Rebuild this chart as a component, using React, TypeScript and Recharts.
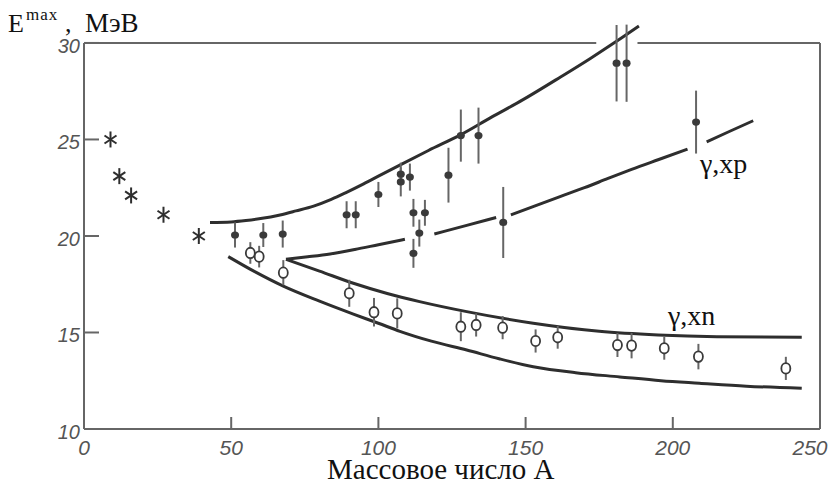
import {
  ComposedChart,
  Line,
  Scatter,
  ErrorBar,
  XAxis,
  YAxis,
  ReferenceLine,
} from "recharts";

/* ---------- данные ---------- */

// звёздочки (лёгкие ядра)
const starA = [9, 12, 16, 27, 39];
const starE = [25.0, 23.1, 22.1, 21.1, 20.0];

// тёмные точки с погрешностями
const dotA = [51.3, 60.9, 67.5, 89.2, 92.3, 100, 107.6, 107.6, 110.7, 111.9, 115.8, 113.9, 111.9, 123.8, 128, 134, 142.4, 180.9, 184.3, 207.9];
const dotE = [20.05, 20.05, 20.1, 21.1, 21.1, 22.15, 23.2, 22.8, 23.05, 21.2, 21.2, 20.15, 19.1, 23.15, 25.2, 25.2, 20.7, 28.95, 28.95, 25.9];
const dotErr = [0.65, 0.62, 0.7, 0.7, 0.7, 0.65, 0.6, 0.75, 0.7, 0.72, 0.67, 0.7, 0.75, 1.42, 1.35, 1.45, 1.84, 1.98, 2.0, 1.63];

// светлые кружки с погрешностями
const ringA = [56.5, 59.5, 67.7, 90.1, 98.5, 106.4, 128, 133.2, 142.2, 153.4, 160.9, 181.2, 186, 197.1, 208.7, 238.4];
const ringE = [19.12, 18.93, 18.1, 17.03, 16.05, 15.99, 15.3, 15.39, 15.25, 14.56, 14.75, 14.35, 14.32, 14.18, 13.75, 13.14];
const ringErr = [0.56, 0.56, 0.65, 0.7, 0.74, 0.78, 0.75, 0.6, 0.6, 0.6, 0.59, 0.62, 0.66, 0.59, 0.66, 0.6];

// верхняя огибающая
const upA = [42.8, 50, 55, 60, 66.6, 72, 78, 84, 89, 95, 100, 107.6, 117, 128, 138, 149, 162, 172, 181, 188.5];
const upE = [20.7, 20.73, 20.8, 20.9, 21.09, 21.3, 21.55, 21.9, 22.25, 22.7, 23.1, 23.7, 24.43, 25.25, 26.12, 27.05, 28.25, 29.2, 30.1, 30.88];

// кривая γ,xp (с разрывами)
const xpA = [68.6, 76, 83.6, 92, 100, 109, 114, 119, 130, 140, 142.5, 145, 153, 161.7, 170, 178, 186, 195, 205, 208, 211.5, 219, 227.3];
const xpE = [18.79, 18.92, 19.07, 19.3, 19.55, 19.83, null, 20.1, 20.55, 20.96, null, 21.09, 21.55, 22.04, 22.5, 22.98, 23.45, 23.95, 24.5, null, 24.88, 25.4, 25.97];

// кривая γ,xn
const xnA = [68.6, 80, 91.5, 103, 114, 130, 152.6, 175, 195, 215, 243.8];
const xnE = [18.79, 18.18, 17.55, 17.02, 16.6, 16.08, 15.48, 15.06, 14.87, 14.78, 14.75];

// нижняя огибающая
const lowA = [49, 58, 67.7, 80, 91.5, 100, 107.3, 118, 130, 141, 152.6, 167, 182, 196, 209, 225, 243.8];
const lowE = [18.93, 18.15, 17.4, 16.62, 15.95, 15.48, 15.06, 14.55, 14.09, 13.64, 13.23, 12.92, 12.7, 12.5, 12.37, 12.22, 12.11];

const xTicks = [0, 50, 100, 150, 200, 250];
const yTicks = [10, 15, 20, 25, 30];

const zip = (a: number[], e: (number | null)[], err?: number[]) =>
  a.map((v, i) => ({ a: v, e: e[i], err: err ? err[i] : 0 }));

const stars = zip(starA, starE);
const dots = zip(dotA, dotE, dotErr);
const rings = zip(ringA, ringE, ringErr);
const upCurve = zip(upA, upE);
const xpCurve = zip(xpA, xpE);
const xnCurve = zip(xnA, xnE);
const lowCurve = zip(lowA, lowE);

const INK = "#2e2e2e";
const FRAME = "#666";
const LABEL = "#555";
const tickFont = "'Liberation Sans', Arial, sans-serif";
const serif = "'Liberation Serif', 'Times New Roman', serif";

/* ---------- значки ---------- */

const StarMark = (p: any) => (
  <g stroke={INK} strokeWidth={2}>
    <line x1={p.cx} y1={p.cy - 8} x2={p.cx} y2={p.cy + 8} />
    <line x1={p.cx - 6} y1={p.cy - 4} x2={p.cx + 6} y2={p.cy + 4} />
    <line x1={p.cx - 6} y1={p.cy + 4} x2={p.cx + 6} y2={p.cy - 4} />
  </g>
);

const DotMark = (p: any) => <ellipse cx={p.cx} cy={p.cy} rx={4} ry={3.6} fill="#3a3a3a" />;

const RingMark = (p: any) => (
  <ellipse cx={p.cx} cy={p.cy} rx={4.5} ry={5.2} fill="#fff" stroke="#3a3a3a" strokeWidth={1.8} />
);

// подписи делений курсивом (сами деления рисует ось, внутрь рамки)
const XTick = (p: any) => (
  <text
    x={p.payload.value === 250 ? p.x - 6 : p.x}
    y={p.y + 15}
    textAnchor="middle"
    fontFamily={tickFont}
    fontStyle="italic"
    fontSize={21}
    fill={LABEL}
  >
    {p.payload.value}
  </text>
);

const YTick = (p: any) => (
  <text x={p.x} y={p.y + 10} textAnchor="end" fontFamily={tickFont} fontStyle="italic" fontSize={20} fill={LABEL}>
    {p.payload.value}
  </text>
);

export default function App() {
  return (
    <div style={{ position: "absolute", left: 0, top: 0, width: 828, height: 483, background: "#fff" }}>
      <ComposedChart width={828} height={483} margin={{ top: 14, right: 8, bottom: 24, left: 44 }}>
        <XAxis
          type="number"
          dataKey="a"
          domain={[0, 250]}
          ticks={xTicks}
          height={30}
          tickSize={-12}
          tickMargin={23}
          tick={XTick}
          axisLine={{ stroke: FRAME, strokeWidth: 2 }}
          tickLine={{ stroke: FRAME, strokeWidth: 2 }}
        />
        <YAxis
          type="number"
          dataKey="e"
          domain={[10, 31.5]}
          allowDataOverflow
          ticks={yTicks}
          width={40}
          tickSize={-15}
          tickMargin={19}
          tick={YTick}
          axisLine={false}
          tickLine={{ stroke: FRAME, strokeWidth: 2 }}
        />

        {/* рамка: слева, справа и сверху (с разрывом под кривой) */}
        <ReferenceLine segment={[{ x: 0, y: 10 }, { x: 0, y: 30 }]} stroke={FRAME} strokeWidth={2} ifOverflow="visible" />
        <ReferenceLine segment={[{ x: 250, y: 10 }, { x: 250, y: 30 }]} stroke={FRAME} strokeWidth={2} ifOverflow="visible" />
        <ReferenceLine segment={[{ x: 0, y: 30 }, { x: 174, y: 30 }]} stroke={FRAME} strokeWidth={2} ifOverflow="visible" />
        <ReferenceLine segment={[{ x: 188, y: 30 }, { x: 250, y: 30 }]} stroke={FRAME} strokeWidth={2} ifOverflow="visible" />

        {/* кривые */}
        <Line data={upCurve} dataKey="e" type="monotone" stroke={INK} strokeWidth={3} dot={false} isAnimationActive={false} />
        <Line data={xpCurve} dataKey="e" type="monotone" stroke={INK} strokeWidth={3} dot={false} connectNulls={false} isAnimationActive={false} />
        <Line data={xnCurve} dataKey="e" type="monotone" stroke={INK} strokeWidth={3} dot={false} isAnimationActive={false} />
        <Line data={lowCurve} dataKey="e" type="monotone" stroke={INK} strokeWidth={3} dot={false} isAnimationActive={false} />

        {/* точки */}
        <Scatter data={stars} dataKey="e" shape={StarMark} isAnimationActive={false} />
        <Scatter data={dots} dataKey="e" shape={DotMark} isAnimationActive={false}>
          <ErrorBar dataKey="err" direction="y" width={0} stroke="#666" strokeWidth={2} />
        </Scatter>
        <Scatter data={rings} dataKey="e" shape={RingMark} isAnimationActive={false}>
          <ErrorBar dataKey="err" direction="y" width={0} stroke="#666" strokeWidth={2} />
        </Scatter>
      </ComposedChart>

      {/* подписи */}
      <svg width={828} height={483} style={{ position: "absolute", left: 0, top: 0, pointerEvents: "none" }}>
        <g fontFamily={serif} fill="#111">
          <text x={8} y={32} fontSize={26}>E</text>
          <text x={26} y={20} fontSize={17} letterSpacing={1}>max</text>
          <text x={65} y={32} fontSize={26}>,</text>
          <text x={85} y={32} fontSize={27}>МэВ</text>
          <text x={327} y={479} fontSize={29}>Массовое число А</text>
          <text x={700} y={173} fontSize={28}>γ,xp</text>
          <text x={668} y={325} fontSize={28}>γ,xn</text>
        </g>
      </svg>
    </div>
  );
}
